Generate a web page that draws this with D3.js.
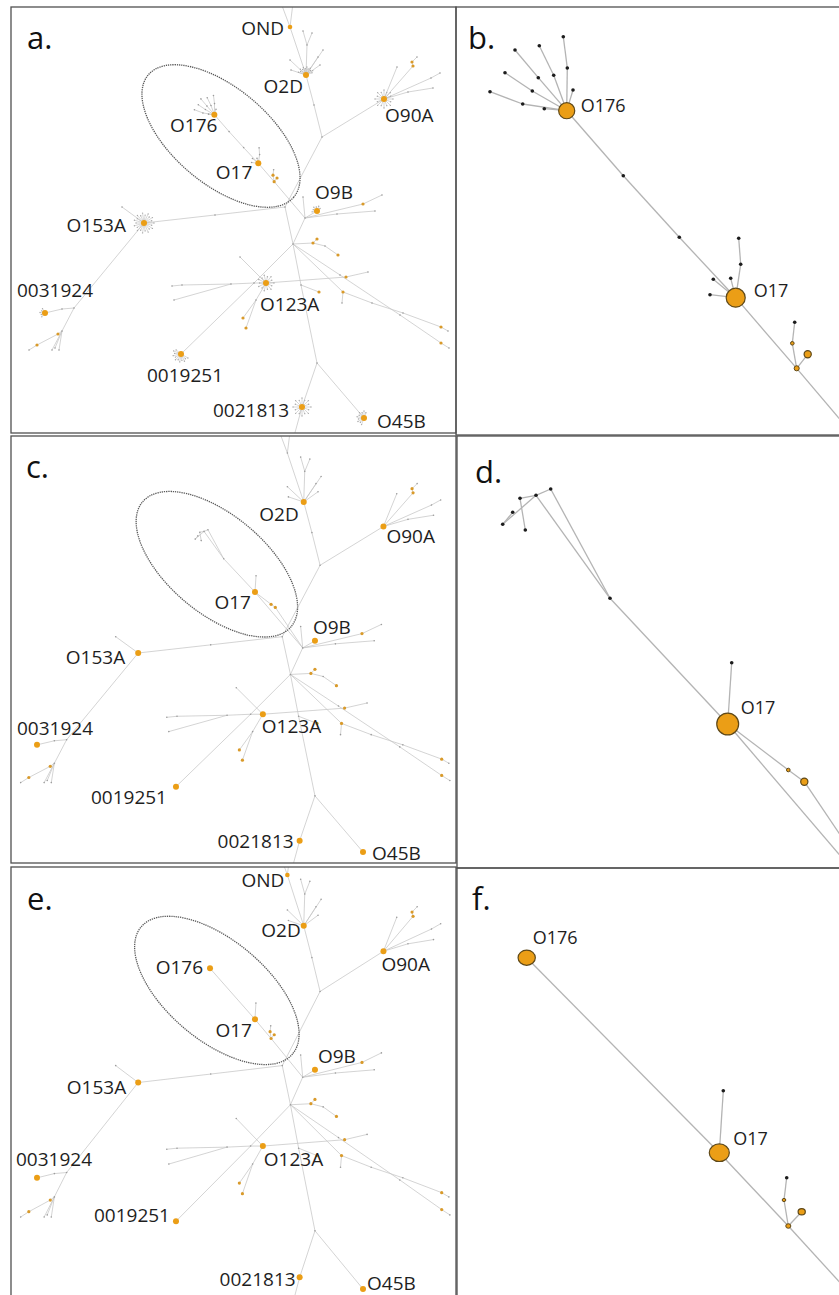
<!DOCTYPE html>
<html>
<head>
<meta charset="utf-8">
<script src="https://cdn.jsdelivr.net/npm/d3@7"></script>
<style>
  body { margin: 0; background: #fff; }
  text { font-family: "Open Sans", sans-serif; }
</style>
</head>
<body>
<script>
// ---- full minimum spanning tree (layout units, shared by panels a, c, e) ----
// [id, x, y, kind]  kind: n = named isolate group, o = sample node, h = branch / hypothetical node
const treeNodes = [
  ["t1", 293, 3, "h"], ["t2", 281, 3, "h"],
  ["OND", 290, 27, "n"],
  ["O2D", 306, 75, "n"],
  ["u1", 307, 45, "h"], ["u2", 303, 31, "h"], ["u3", 312, 33, "h"],
  ["u4", 323, 50, "h"], ["u5", 318, 57, "h"], ["u6", 290, 60, "h"],
  ["u7", 291, 70, "h"], ["u8", 320, 65, "h"],
  ["e2", 314, 105, "h"], ["j1", 322, 137, "h"],
  ["O90A", 384, 99, "n"],
  ["v1", 397, 67, "h"], ["v2", 413, 66, "o"], ["v3", 412, 62, "o"], ["v4", 417, 57, "h"],
  ["v5", 431, 78, "h"], ["v6", 440, 73, "h"], ["v7", 408, 92, "h"], ["v8", 433, 88, "h"],
  ["j3", 285, 207, "h"], ["j4", 305, 218, "h"], ["e1", 215, 215, "h"],
  ["O9B", 317, 211, "n"],
  ["w1", 303, 197, "h"], ["w2", 363, 204, "o"], ["w3", 382, 195, "h"],
  ["w4", 337, 214, "h"], ["w5", 375, 211, "h"],
  ["hub", 293, 244, "h"],
  ["k1", 313, 243, "o"], ["k2", 317, 239, "o"], ["k3", 325, 246, "h"], ["k4", 338, 255, "o"],
  ["r1", 343, 292, "o"], ["r2", 372, 303, "h"], ["r3", 403, 313, "h"], ["r4", 441, 327, "o"],
  ["r5", 448, 331, "h"], ["r6", 342, 303, "h"],
  ["s1", 340, 275, "h"], ["s2", 400, 315, "h"], ["s3", 441, 343, "o"], ["s4", 449, 348, "h"],
  ["O123A", 266, 283, "n"], ["dD0", 254, 283, "h"],
  ["x1", 346, 277, "o"], ["x2", 368, 272, "h"],
  ["hL1", 231, 284, "h"], ["hL2", 182, 285, "h"], ["hL3", 172, 286, "h"], ["hL4", 174, 300, "h"],
  ["y0", 240, 257, "h"],
  ["bD1", 256, 300, "h"], ["bD2", 243, 318, "o"], ["bD3", 246, 328, "o"],
  ["0019251", 181, 354, "n"],
  ["hV1", 301, 285, "h"], ["hV2", 319, 292, "o"],
  ["j5", 317, 363, "h"],
  ["0021813", 302, 407, "n"], ["b21", 293, 440, "h"],
  ["O45B", 364, 418, "n"],
  ["O153A", 144, 223, "n"],
  ["p1", 122, 207, "h"], ["p2", 74, 308, "h"], ["p3", 62, 309, "h"],
  ["0031924", 45, 313, "n"],
  ["p4", 62, 331, "h"], ["p5", 58, 334, "o"], ["p6", 37, 345, "o"], ["p7", 29, 350, "h"],
  ["p8", 55, 348, "h"], ["p9", 52, 350, "h"], ["p10", 59, 350, "h"]
];
const treeLinks = [
  ["t1","OND"],["t2","OND"],["OND","O2D"],
  ["O2D","u1"],["u1","u2"],["u1","u3"],["O2D","u4"],["O2D","u5"],["O2D","u6"],["O2D","u7"],["O2D","u8"],
  ["O2D","e2"],["e2","j1"],["j1","O90A"],
  ["O90A","v1"],["O90A","v2"],["v2","v3"],["v3","v4"],["O90A","v5"],["v5","v6"],["O90A","v7"],["v7","v8"],
  ["j1","j3"],["j3","e1"],["e1","O153A"],["j3","hub"],["j4","hub"],
  ["j4","O9B"],["j4","w1"],["j4","w2"],["w2","w3"],["j4","w4"],["w4","w5"],
  ["hub","k1"],["k1","k2"],["k1","k3"],["k3","k4"],
  ["hub","r1"],["r1","r2"],["r2","r3"],["r3","r4"],["r4","r5"],["r1","r6"],
  ["hub","s1"],["s1","s2"],["s2","s3"],["s3","s4"],
  ["hub","dD0"],["dD0","0019251"],["O123A","dD0"],["O123A","x1"],["x1","x2"],
  ["dD0","hL1"],["hL1","hL2"],["hL2","hL3"],["hL1","hL4"],
  ["O123A","y0"],["O123A","bD1"],["bD1","bD2"],["bD1","bD3"],
  ["hub","hV1"],["hV1","hV2"],["hV1","j5"],["j5","0021813"],["0021813","b21"],["j5","O45B"],
  ["O153A","p1"],["O153A","p2"],["p2","p3"],["p3","0031924"],["p2","p4"],["p4","p5"],["p5","p6"],["p6","p7"],
  ["p4","p8"],["p4","p9"],["p4","p10"]
];

// leaf isolates drawn as stars round the big groups (panel a only)
const starHubs   = ["O2D", "O90A", "O153A", "O123A", "0019251", "0021813", "O45B", "O9B", "0031924"];
const starLeaves = [12, 16, 22, 14, 12, 16, 10, 6, 5];

// circled region of the full trees
const ring = { cx: 221, cy: 136, rx: 95, ry: 48, angle: 40 };
const o17Layout = [258.3, 163.3];

// ---- zoomed sub-trees round O176 / O17 (local units of panels b, d, f) ----
// [id, x, y, kind, isolates]
const netB = [
  ["O176", 110.7, 103.7, "n", 20],
  ["f1", 34, 84.7, "h"], ["f2", 66.7, 97, "h"], ["f3", 88.3, 101.7, "h"],
  ["f4", 49, 65.7, "h"], ["f5", 76.3, 84, "h"], ["f6", 59, 43, "h"], ["f7", 82.3, 70.7, "h"],
  ["f8", 83.3, 38.7, "h"], ["f9", 97.7, 68.3, "h"], ["f10", 107.3, 29.7, "h"],
  ["f11", 111.3, 61, "h"], ["f12", 117, 83, "h"],
  ["m1", 167.3, 168.7, "h"], ["m2", 223.3, 230.3, "h"],
  ["O17", 279.7, 290.7, "n", 28],
  ["g1", 282.7, 231.3, "h"], ["g2", 284.7, 257.3, "h"], ["g3", 274.7, 271.3, "h"],
  ["g4", 257.3, 272.3, "h"], ["g5", 254, 287.7, "h"],
  ["c1", 340.7, 361.3, "o", 2], ["c2", 336.3, 336.3, "o", 1], ["c3", 338.7, 315.3, "h"],
  ["c4", 351.7, 347.3, "o", 4]
];
const linksB = [
  ["O176","f2"],["f2","f1"],["O176","f3"],["O176","f5"],["f5","f4"],["O176","f7"],["f7","f6"],
  ["O176","f9"],["f9","f8"],["O176","f11"],["f11","f10"],["O176","f12"],
  ["O176","m1"],["m1","m2"],["m2","O17"],
  ["O17","g2"],["g2","g1"],["O17","g3"],["O17","g4"],["O17","g5"],
  ["O17","c1"],["c1","c2"],["c2","c3"],["c1","c4"],["c1","j4"]
];
const netD = [
  ["O17", 271.7, 288, "n", 37], ["d1", 275.7, 226.7, "h"], ["P7", 154, 162.3, "h"],
  ["P1", 94.7, 53, "h"], ["P2", 80, 59.3, "h"], ["P3", 64, 62.3, "h"],
  ["P4", 56.7, 76.3, "h"], ["P5", 46.7, 88.3, "h"], ["P6", 69.3, 94, "h"],
  ["q1", 332.3, 334, "o", 1], ["q2", 348.3, 345.7, "o", 4]
];
const linksD = [
  ["O17","d1"],["O17","P7"],["P7","P1"],["P7","P2"],["P1","P2"],["P2","P3"],["P3","P6"],
  ["P2","P5"],["P5","P4"],["O17","q1"],["q1","q2"],["O17","j4"],["q2","j4"]
];
const netF = [
  ["O176", 70.7, 89.7, "n", 23], ["O17", 263.3, 284.7, "n", 31], ["g1", 267.3, 222.7, "h"],
  ["h1", 332.3, 358, "o", 2], ["h2", 328, 332, "o", 1], ["h3", 330.7, 309.7, "h"],
  ["h4", 345.7, 343.7, "o", 4]
];
const linksF = [
  ["O176","O17"],["O17","g1"],["O17","h1"],["h1","h2"],["h2","h3"],["h1","h4"],["h1","j4"]
];

const labelsA = ["OND", "O2D", "O90A", "O176", "O17", "O9B", "O153A", "0031924", "O123A", "0019251", "0021813", "O45B"];
const labelsC = ["O2D", "O90A", "O17", "O9B", "O153A", "0031924", "O123A", "0019251", "0021813", "O45B"];
const labelsE = labelsA;
const labelsB = ["O176", "O17"];
const labelsD = ["O17"];
const labelsF = ["O176", "O17"];
const panelLetters = ["a.", "b.", "c.", "d.", "e.", "f."];

// ---- page ----
const ORANGE = "#eb9e16", RING = "#5e4818";
const svg = d3.select("body").append("svg").attr("width", 839).attr("height", 1295);
const defs = svg.append("defs");

const subnets = {
  B: { nodes: netB, links: linksB, k: [0.26, 0.26] },
  D: { nodes: netD, links: linksD, k: [0.26, 0.26] },
  F: { nodes: netF, links: linksF, k: [0.2285, 0.247] }
};
function zoomScales(sub) {
  const o = sub.nodes.find(d => d[0] === "O17");
  return {
    zx: d3.scaleLinear().domain([o[1], o[1] + 100]).range([o17Layout[0], o17Layout[0] + 100 * sub.k[0]]),
    zy: d3.scaleLinear().domain([o[2], o[2] + 100]).range([o17Layout[1], o17Layout[1] + 100 * sub.k[1]])
  };
}
const j4 = treeNodes.find(d => d[0] === "j4");

const panels = [
  { frame: { x: 11, y: 7, w: 445, h: 426 }, type: "tree", net: "B", labels: labelsA,
    xr: [45, 364], yr: [27, 418], stars: true, letter: [16, 42],
    pos: { OND:["end",-6,8], O2D:["end",-3,18], O90A:["start",1,23], O176:["end",3,17], O17:["end",-6,16],
           O9B:["start",-2,-12], O153A:["end",-18,9], "0031924":["start",-28,-16], O123A:["start",-6,28],
           "0019251":["middle",4,28], "0021813":["end",-13,10], O45B:["start",13,10] } },
  { frame: { x: 456, y: 7, w: 400, h: 428 }, type: "zoom", net: "B", labels: labelsB, top: 7, letter: [12, 42],
    pos: { O176:["start",14,1.5], O17:["start",18,-0.5] } },
  { frame: { x: 11, y: 436, w: 445, h: 427 }, type: "tree", net: "D", labels: labelsC,
    xr: [37, 363], yr: [453, 852], stars: false, letter: [15, 42],
    pos: { O2D:["end",-5,19], O90A:["start",3,17], O17:["end",-4,17], O9B:["start",-2,-7],
           O153A:["end",-13,11], "0031924":["start",-20,-10], O123A:["start",-1,19],
           "0019251":["end",-9,17], "0021813":["end",-6,7], O45B:["start",9,8] } },
  { frame: { x: 457, y: 436, w: 400, h: 432 }, type: "zoom", net: "D", labels: labelsD, top: 436, letter: [18, 47],
    pos: { O17:["start",13,-10] } },
  { frame: { x: 11, y: 867, w: 445, h: 450 }, type: "tree", net: "F", labels: labelsE,
    xr: [37, 363], yr: [875, 1289], stars: false, letter: [16, 43],
    pos: { OND:["end",-3,12], O2D:["end",-3,11], O90A:["start",-2,20], O176:["end",-7,6], O17:["end",-3,18],
           O9B:["start",3,-7], O153A:["end",-12,11], "0031924":["start",-21,-12], O123A:["start",1,20],
           "0019251":["end",-6,1], "0021813":["end",-4,9], O45B:["start",4,1] } },
  { frame: { x: 457, y: 868, w: 400, h: 450 }, type: "zoom", net: "F", labels: labelsF, top: 868, letter: [15, 42],
    aspect: 0.88, pos: { O176:["start",6,-14], O17:["start",14,-8] } }
];

// star arcs: [from deg, to deg, spoke length] (clockwise from east)
const starFan = {
  O2D: [200, 340, 8], O90A: [0, 360, 9], O153A: [0, 360, 10], O123A: [0, 360, 8],
  "0019251": [30, 220, 8], "0021813": [0, 360, 9], O45B: [110, 290, 7], O9B: [170, 320, 5], "0031924": [130, 240, 5]
};

function drawTree(p, i) {
  const f = p.frame;
  const xs = d3.scaleLinear().domain([45, 364]).range(p.xr);
  const ys = d3.scaleLinear().domain([27, 418]).range(p.yr);
  const sub = subnets[p.net];
  const { zx, zy } = zoomScales(sub);
  const nodes = new Map();
  treeNodes.forEach(([id, x, y, kind]) => {
    const k = kind === "n" && !p.labels.includes(id) ? "h" : kind;
    nodes.set(id, { id, x: xs(x), y: ys(y), kind: k });
  });
  sub.nodes.forEach(([id, x, y, kind]) => nodes.set(id, { id, x: xs(zx(x)), y: ys(zy(y)), kind }));
  const links = treeLinks.concat(sub.links).map(([a, b]) => [nodes.get(a), nodes.get(b)]);

  const cid = "clip" + i;
  defs.append("clipPath").attr("id", cid).append("rect")
    .attr("x", f.x).attr("y", f.y).attr("width", f.w).attr("height", f.h);
  const g = svg.append("g").attr("clip-path", `url(#${cid})`);

  g.append("g").selectAll("line").data(links).join("line")
    .attr("x1", d => d[0].x).attr("y1", d => d[0].y)
    .attr("x2", d => d[1].x).attr("y2", d => d[1].y)
    .attr("stroke", "#c6c6c6").attr("stroke-width", 0.75);

  if (p.stars) {
    const spokes = [];
    starHubs.forEach((id, si) => {
      const c = nodes.get(id), [a0, a1, len] = starFan[id], n = starLeaves[si];
      const full = a1 - a0 >= 360;
      for (let s = 0; s < n; s++) {
        const a = (a0 + (a1 - a0) * s / (full ? n : n - 1)) * Math.PI / 180;
        const l = len * (s % 2 ? 0.8 : 1);
        spokes.push({ x1: c.x, y1: c.y, x2: c.x + l * Math.cos(a), y2: c.y + l * Math.sin(a) });
      }
    });
    const sg = g.append("g");
    sg.selectAll("line").data(spokes).join("line")
      .attr("x1", d => d.x1).attr("y1", d => d.y1).attr("x2", d => d.x2).attr("y2", d => d.y2)
      .attr("stroke", "#bdbdbd").attr("stroke-width", 0.6);
    sg.selectAll("circle").data(spokes).join("circle")
      .attr("cx", d => d.x2).attr("cy", d => d.y2).attr("r", 0.7).attr("fill", "#a8a8a8");
  }

  const all = Array.from(nodes.values()).filter(d => d.y < f.y + f.h + 5);
  g.append("g").selectAll("circle").data(all.filter(d => d.kind === "h")).join("circle")
    .attr("cx", d => d.x).attr("cy", d => d.y).attr("r", 0.8).attr("fill", "#9c9c9c");
  g.append("g").selectAll("circle").data(all.filter(d => d.kind === "o")).join("circle")
    .attr("cx", d => d.x).attr("cy", d => d.y).attr("r", 1.6).attr("fill", "#d99a2a");
  g.append("g").selectAll("circle").data(all.filter(d => d.kind === "n")).join("circle")
    .attr("cx", d => d.x).attr("cy", d => d.y).attr("r", d => d.id === "OND" ? 2.3 : 3)
    .attr("fill", ORANGE);

  const sx = (xs(100) - xs(0)) / 100, sy = (ys(100) - ys(0)) / 100, sm = (sx + sy) / 2;
  g.append("ellipse")
    .attr("transform", `translate(${xs(ring.cx)},${ys(ring.cy)}) rotate(${ring.angle})`)
    .attr("rx", ring.rx * sm).attr("ry", ring.ry * sm)
    .attr("fill", "none").attr("stroke", "#5a5a5a").attr("stroke-width", 1.3)
    .attr("stroke-dasharray", "1.3,0.9");

  g.append("g").selectAll("text").data(p.labels).join("text")
    .attr("x", d => nodes.get(d).x + p.pos[d][1])
    .attr("y", d => nodes.get(d).y + p.pos[d][2])
    .attr("text-anchor", d => p.pos[d][0])
    .attr("font-size", 19).attr("fill", "#1e1e1e").text(d => d);
}

function drawZoom(p, i) {
  const f = p.frame;
  const sub = subnets[p.net];
  const { zx, zy } = zoomScales(sub);
  const px = d3.scaleLinear().domain([0, 383]).range([456, 839]);
  const py = d3.scaleLinear().domain([0, 428]).range([p.top, p.top + 428]);
  const rs = d3.scaleSqrt().domain([0, 1]).range([0, 1.8]);
  const nodes = new Map();
  sub.nodes.forEach(([id, x, y, kind, n]) => nodes.set(id, { id, x: px(x), y: py(y), kind, n }));
  nodes.set("j4", { id: "j4", x: px(zx.invert(j4[1])), y: py(zy.invert(j4[2])), kind: "x" });
  const links = sub.links.map(([a, b]) => [nodes.get(a), nodes.get(b)]);

  const cid = "clip" + i;
  defs.append("clipPath").attr("id", cid).append("rect")
    .attr("x", f.x).attr("y", f.y).attr("width", f.w).attr("height", f.h);
  const g = svg.append("g").attr("clip-path", `url(#${cid})`);

  g.append("g").selectAll("line").data(links).join("line")
    .attr("x1", d => d[0].x).attr("y1", d => d[0].y)
    .attr("x2", d => d[1].x).attr("y2", d => d[1].y)
    .attr("stroke", "#b4b4b4").attr("stroke-width", 1.3);

  const all = Array.from(nodes.values());
  g.append("g").selectAll("circle").data(all.filter(d => d.kind === "h")).join("circle")
    .attr("cx", d => d.x).attr("cy", d => d.y).attr("r", 1.8).attr("fill", "#1c1c1c");
  const asp = p.aspect || 1;
  g.append("g").selectAll("ellipse").data(all.filter(d => d.kind === "n" || d.kind === "o")).join("ellipse")
    .attr("cx", d => d.x).attr("cy", d => d.y)
    .attr("rx", d => rs(d.n)).attr("ry", d => rs(d.n) * asp)
    .attr("fill", ORANGE).attr("stroke", RING).attr("stroke-width", d => d.n > 2 ? 1.2 : 1);

  g.append("g").selectAll("text").data(p.labels).join("text")
    .attr("x", d => nodes.get(d).x + p.pos[d][1])
    .attr("y", d => nodes.get(d).y + p.pos[d][2])
    .attr("text-anchor", d => p.pos[d][0])
    .attr("font-size", 18).attr("fill", "#1e1e1e").text(d => d);
}

panels.forEach((p, i) => {
  if (p.type === "tree") drawTree(p, i); else drawZoom(p, i);
  svg.append("text")
    .attr("x", p.frame.x + p.letter[0]).attr("y", p.frame.y + p.letter[1])
    .attr("font-size", 31).attr("fill", "#111").text(panelLetters[i]);
});

// panel frames
svg.append("g").selectAll("rect").data(panels.map(p => p.frame)).join("rect")
  .attr("x", d => d.x).attr("y", d => d.y).attr("width", d => d.w).attr("height", d => d.h)
  .attr("fill", "none").attr("stroke", "#505050").attr("stroke-width", 1.3);
</script>
</body>
</html>
